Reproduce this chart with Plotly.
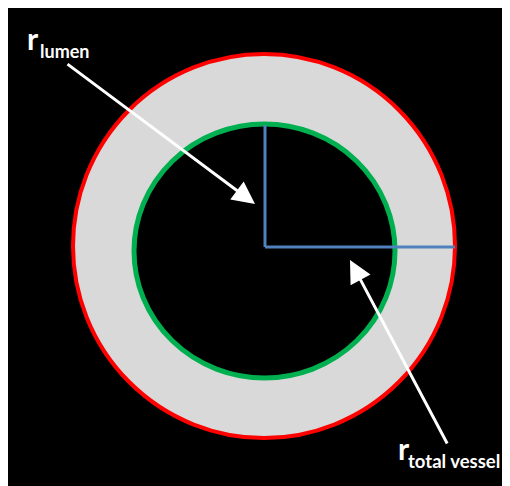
import plotly.graph_objects as go

# Geometry (pixel units of the image)
outer_x = [73, 455]
outer_y = [52, 436]
lumen_x = [134, 395]
lumen_y = [122, 376]
r_lumen_x = [265, 265]
r_lumen_y = [123, 245]
r_vessel_x = [265, 455]
r_vessel_y = [245, 245]
arrow_tails = [(66, 61), (448, 443)]
arrow_heads = [(255, 202), (350, 258)]
label_main = ["r", "r"]
label_sub = ["lumen", "total vessel"]
label_sub_size = [18, 18.5]
label_main_pos = [(25, 36), (396, 446)]
label_sub_pos = [(38, 49), (406, 459)]

fig = go.Figure()

fig.add_shape(type="circle", xref="x", yref="y",
              x0=outer_x[0], x1=outer_x[1], y0=outer_y[0], y1=outer_y[1],
              fillcolor="#D9D9D9", line=dict(color="#FF0000", width=4), layer="below")
fig.add_shape(type="circle", xref="x", yref="y",
              x0=lumen_x[0], x1=lumen_x[1], y0=lumen_y[0], y1=lumen_y[1],
              fillcolor="#000000", line=dict(color="#00B050", width=5), layer="below")

fig.add_trace(go.Scatter(x=r_lumen_x, y=r_lumen_y, mode="lines",
                         line=dict(color="#4F81BD", width=3), hoverinfo="skip"))
fig.add_trace(go.Scatter(x=r_vessel_x, y=r_vessel_y, mode="lines",
                         line=dict(color="#4F81BD", width=3), hoverinfo="skip"))

for (tx, ty), (hx, hy) in zip(arrow_tails, arrow_heads):
    fig.add_annotation(x=hx, y=hy, ax=tx, ay=ty, xref="x", yref="y",
                       axref="x", ayref="y", text="", showarrow=True,
                       arrowhead=2, arrowsize=1.5, arrowwidth=3,
                       arrowcolor="#FFFFFF", standoff=0)

for t, (x, y) in zip(label_main, label_main_pos):
    fig.add_annotation(x=x, y=y, xref="x", yref="y", text="<b>%s</b>" % t,
                       showarrow=False, xanchor="left", yanchor="middle",
                       font=dict(family="Lato", size=30, color="#FFFFFF"))
for t, (x, y), s in zip(label_sub, label_sub_pos, label_sub_size):
    fig.add_annotation(x=x, y=y, xref="x", yref="y", text="<b>%s</b>" % t,
                       showarrow=False, xanchor="left", yanchor="middle",
                       font=dict(family="Lato", size=s, color="#FFFFFF"))

fig.update_layout(
    width=502, height=480,
    margin=dict(l=0, r=0, t=0, b=0),
    paper_bgcolor="#000000", plot_bgcolor="#000000",
    showlegend=False,
    xaxis=dict(range=[8, 510], visible=False, fixedrange=True),
    yaxis=dict(range=[486, 6], visible=False, fixedrange=True),
)

fig.write_html("out.html", config={"displayModeBar": False})
